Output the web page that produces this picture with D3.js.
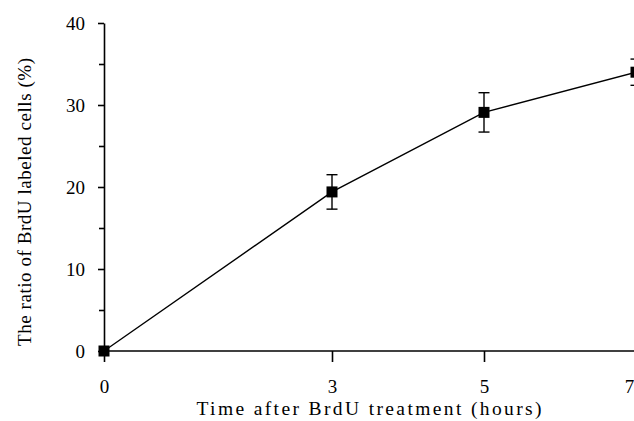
<!DOCTYPE html>
<html><head><meta charset="utf-8">
<script src="https://cdn.jsdelivr.net/npm/d3@7"></script>
<style>body{margin:0;background:#fff;overflow:hidden}svg{display:block}text{font-family:"Liberation Serif","DejaVu Serif",serif;fill:#000}</style>
</head><body><svg id="c" width="634" height="421"></svg>
<script>
const hours = [0, 3, 5, 7];
const ratio = [0, 19.4, 29.1, 34.0];
const errs = [0, 2.1, 2.4, 1.6];
const xTicks = [0, 3, 5, 7];
const yTicks = [0, 10, 20, 30, 40];
const yMinorTicks = [5, 15, 25, 35];
const xTitle = "Time after BrdU treatment (hours)";
const yTitle = "The ratio of BrdU labeled cells (%)";

const svg = d3.select("#c");
const x = d3.scaleLinear().domain([0, 7]).range([104, 636]);
const y = d3.scaleLinear().domain([0, 40]).range([351, 23]);

// x axis
const gx = svg.append("g").attr("transform", "translate(0,351)")
  .call(d3.axisBottom(x).tickValues(xTicks).tickFormat(d3.format("d")).tickSize(11).tickSizeOuter(0).tickPadding(18));
gx.select(".domain").attr("stroke-width", 1.6).attr("d", "M104,0H634");
gx.selectAll(".tick line").attr("stroke-width", 1.6);
gx.selectAll(".tick text").attr("font-size", 19);
// last label sits just inside the right edge, as in the reference
gx.selectAll(".tick").filter(d => d === 7).select("text").attr("x", -7);

// y axis
const gy = svg.append("g").attr("transform", "translate(104,0)")
  .call(d3.axisLeft(y).tickValues(yTicks).tickSize(6).tickSizeOuter(0).tickPadding(13));
gy.select(".domain").attr("stroke-width", 1.6);
gy.selectAll(".tick line").attr("stroke-width", 1.6);
gy.selectAll(".tick text").attr("font-size", 19);
const gym = svg.append("g").attr("transform", "translate(104,0)")
  .call(d3.axisLeft(y).tickValues(yMinorTicks).tickSize(5).tickFormat(""));
gym.select(".domain").remove();
gym.selectAll(".tick line").attr("stroke-width", 1.6);

// titles
svg.append("text").attr("x", 369).attr("y", 415).attr("text-anchor", "middle")
  .attr("font-size", 19.5).attr("textLength", 345).attr("lengthAdjust", "spacing").text(xTitle);
svg.append("text").attr("transform", "translate(31,202) rotate(-90)").attr("text-anchor", "middle")
  .attr("font-size", 19).attr("textLength", 288).attr("lengthAdjust", "spacing").text(yTitle);

// line
svg.append("path").datum(hours.map((h, i) => [h, ratio[i]]))
  .attr("fill", "none").attr("stroke", "#000").attr("stroke-width", 1.4)
  .attr("d", d3.line().x(d => x(d[0])).y(d => y(d[1])));

// error bars
const eb = svg.append("g").attr("stroke", "#000").attr("stroke-width", 1.4);
hours.forEach((h, i) => {
  if (errs[i] <= 0) return;
  const cx = x(h), t = y(ratio[i] + errs[i]), b = y(ratio[i] - errs[i]);
  eb.append("line").attr("x1", cx).attr("x2", cx).attr("y1", t).attr("y2", b);
  eb.append("line").attr("x1", cx - 5.5).attr("x2", cx + 5.5).attr("y1", t).attr("y2", t);
  eb.append("line").attr("x1", cx - 5.5).attr("x2", cx + 5.5).attr("y1", b).attr("y2", b);
});

// markers
svg.append("g").selectAll("rect").data(hours).join("rect")
  .attr("x", (d) => x(d) - 5.5).attr("y", (d, i) => y(ratio[i]) - 5.5)
  .attr("width", 11).attr("height", 11).attr("fill", "#000");
</script></body></html>
